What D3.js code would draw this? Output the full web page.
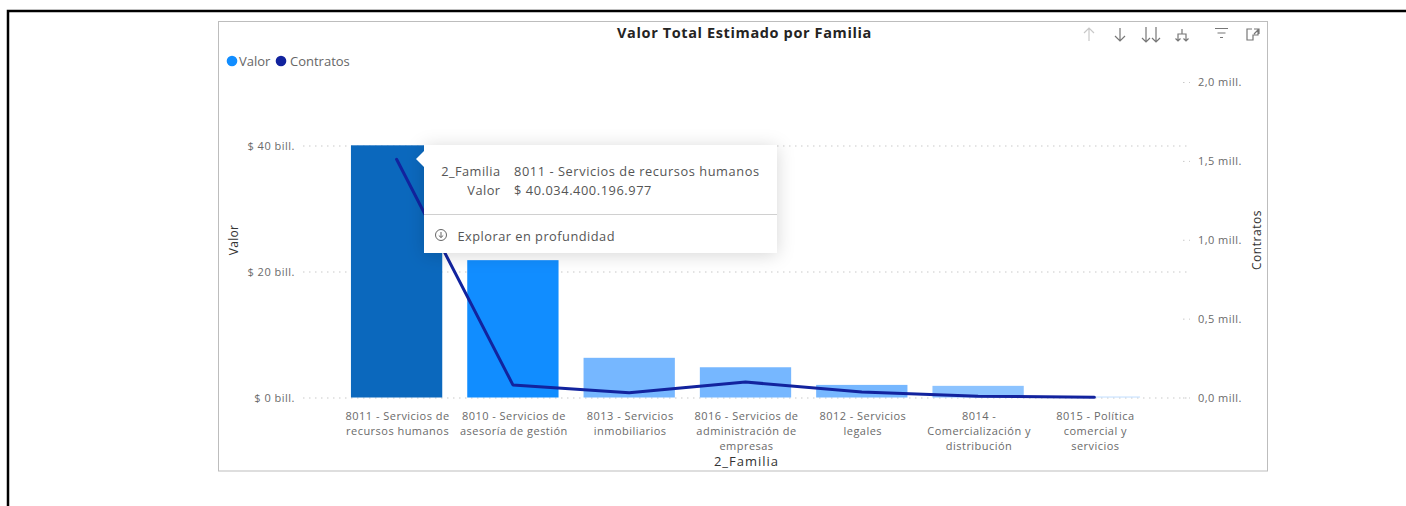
<!DOCTYPE html>
<html><head><meta charset="utf-8">
<script src="https://cdn.jsdelivr.net/npm/d3@7/dist/d3.min.js"></script>
<style>
html,body{margin:0;padding:0;background:#fff;overflow:hidden}
text{font-family:"Open Sans","Noto Sans",sans-serif}
</style></head><body>
<svg id="c" width="1406" height="506"></svg>
<script>
const chartTitle = "Valor Total Estimado por Familia";
const categories = ["8011","8010","8013","8016","8012","8014","8015"];
const categoryLabels = [
  ["8011 - Servicios de","recursos humanos"],
  ["8010 - Servicios de","asesoría de gestión"],
  ["8013 - Servicios","inmobiliarios"],
  ["8016 - Servicios de","administración de","empresas"],
  ["8012 - Servicios","legales"],
  ["8014 -","Comercialización y","distribución"],
  ["8015 - Política","comercial y","servicios"]
];
const valor = [40.03, 21.8, 6.3, 4.8, 2.0, 1.85, 0.15];
const contratos = [1.51, 0.08, 0.03, 0.098, 0.035, 0.008, 0.002];
const barColors = ["#0b68bd","#118dff","#76b7ff","#76b7ff","#76b7ff","#8cc3ff","#bcdcff"];
const valorTicks = [0,20,40];
const valorTickLabels = ["$ 0 bill.","$ 20 bill.","$ 40 bill."];
const contratosTicks = [0,0.5,1,1.5,2];
const contratosTickLabels = ["0,0 mill.","0,5 mill.","1,0 mill.","1,5 mill.","2,0 mill."];
const tooltipKeys = ["2_Familia","Valor"];
const tooltipValues = ["8011 - Servicios de recursos humanos","$ 40.034.400.196.977"];
const legendItems = ["Valor","Contratos"];
const legendColors = ["#118dff","#12239e"];

const svg = d3.select("#c");
const defs = svg.append("defs");
const f = defs.append("filter").attr("id","sh").attr("x","-15%").attr("y","-25%").attr("width","130%").attr("height","150%");
f.append("feDropShadow").attr("dx",0).attr("dy",2).attr("stdDeviation",9).attr("flood-color","#000").attr("flood-opacity",0.16);

// page frame
svg.append("rect").attr("x",8).attr("y",11).attr("width",1420).attr("height",520)
  .attr("fill","#fff").attr("stroke","#000").attr("stroke-width",2.5);
// panel
svg.append("rect").attr("x",218.5).attr("y",21.5).attr("width",1049).attr("height",449.5)
  .attr("fill","#fff").attr("stroke","#bdbdbd").attr("stroke-width",1);

const x = d3.scaleBand().domain(categories).range([338.5,1152.5]).paddingInner(0.215).paddingOuter(0.107);
const yL = d3.scaleLinear().domain([0,40]).range([397.5,145.5]);
const yR = d3.scaleLinear().domain([0,2]).range([397.5,82]);

// left axis with dotted grid
const gL = svg.append("g").attr("transform","translate(303,0)")
  .call(d3.axisLeft(yL).tickValues(valorTicks).tickSize(-887).tickPadding(8)
    .tickFormat((d,i)=>valorTickLabels[i]));
gL.select(".domain").remove();
gL.selectAll("line").attr("stroke","#c9c9c9").attr("stroke-dasharray","1.5 4.5");
gL.selectAll("text").attr("fill","#6a6a6a").attr("font-size",11).attr("letter-spacing",0.5);

// right axis
const gR = svg.append("g").attr("transform","translate(1183,0)")
  .call(d3.axisRight(yR).tickValues(contratosTicks).tickSize(7).tickPadding(8)
    .tickFormat((d,i)=>contratosTickLabels[i]));
gR.select(".domain").remove();
gR.selectAll("line").attr("stroke","#c9c9c9").attr("stroke-dasharray","1.5 4.5");
gR.selectAll("text").attr("fill","#6a6a6a").attr("font-size",11).attr("letter-spacing",0.45);

// bars
svg.append("g").selectAll("rect").data(categories).join("rect")
  .attr("x",d=>x(d)).attr("width",x.bandwidth())
  .attr("y",(d,i)=>yL(valor[i])).attr("height",(d,i)=>yL(0)-yL(valor[i]))
  .attr("fill",(d,i)=>barColors[i]);

// line
const line = d3.line().x(d=>x(d)+x.bandwidth()/2).y((d,i)=>yR(contratos[i]));
svg.append("path").attr("d",line(categories)).attr("fill","none")
  .attr("stroke","#12239e").attr("stroke-width",3).attr("stroke-linejoin","round").attr("stroke-linecap","round");

// category labels
const xg = svg.append("g").selectAll("text").data(categories).join("text")
  .attr("text-anchor","middle").attr("fill","#6a6a6a").attr("font-size",11).attr("letter-spacing",0.47)
  .attr("x",d=>x(d)+x.bandwidth()/2+1);
xg.each(function(d,i){
  d3.select(this).selectAll("tspan").data(categoryLabels[i]).join("tspan")
    .attr("x",x(d)+x.bandwidth()/2+1).attr("y",(t,j)=>420+j*15).text(t=>t);
});

// titles
svg.append("text").attr("x",744.5).attr("y",37.5).attr("text-anchor","middle")
  .attr("font-size",14.5).attr("letter-spacing",0.62).attr("font-weight",700).attr("fill","#252423").text(chartTitle);
svg.append("text").attr("x",746.5).attr("y",466).attr("text-anchor","middle")
  .attr("font-size",13).attr("letter-spacing",1).attr("fill","#333").text("2_Familia");
svg.append("text").attr("transform","translate(238,240) rotate(-90)").attr("text-anchor","middle")
  .attr("font-size",12).attr("letter-spacing",0.3).attr("fill","#333").text("Valor");
svg.append("text").attr("transform","translate(1261,240) rotate(-90)").attr("text-anchor","middle")
  .attr("font-size",12).attr("letter-spacing",0.55).attr("fill","#333").text("Contratos");

// legend
const legX = [232,281];
const lg = svg.append("g").selectAll("g").data(legendItems).join("g")
  .attr("transform",(d,i)=>`translate(${legX[i]},61)`);
lg.append("circle").attr("r",5.3).attr("fill",(d,i)=>legendColors[i]);
lg.append("text").attr("x",(d,i)=>i?9:7).attr("y",4.5).attr("font-size",13).attr("fill","#666").text(d=>d);

// header icons
const ic = svg.append("g").attr("fill","none").attr("stroke-width",1.2);
const icons = [
 ["#c8c8c8","M1089 41V28M1084 33L1089 28L1094 33"],
 ["#777","M1120 28V41M1115 36L1120 41L1125 36"],
 ["#777","M1146 27V42M1142 38L1146 42L1150 38M1156 27V42M1152 38L1156 42L1160 38"],
 ["#777","M1182 29V34M1178 41V34H1186V41M1175.5 38.5L1178 41L1180.5 38.5M1183.5 38.5L1186 41L1188.5 38.5"],
 ["#777","M1215 28.5H1228M1217.5 33H1225.5M1220 37.5H1223"],
 ["#777","M1252 29H1247V40H1253V35H1258V30M1254 29H1259V34M1259 29L1254 34"]
];
ic.selectAll("path").data(icons).join("path").attr("stroke",d=>d[0]).attr("d",d=>d[1]);

// tooltip
const tt = svg.append("g").attr("transform","translate(424,145)");
tt.append("rect").attr("width",353).attr("height",108).attr("fill","#fff").attr("filter","url(#sh)");
tt.append("path").attr("d","M0 6L-8 14L0 22Z").attr("fill","#fff");
tt.append("line").attr("x1",0).attr("x2",353).attr("y1",69.5).attr("y2",69.5).attr("stroke","#d0d0d0");
tooltipKeys.forEach((k,i)=>{
  tt.append("text").attr("x",76.5).attr("y",31+i*19).attr("text-anchor","end").attr("font-size",12.8).attr("letter-spacing",0.45).attr("fill","#555").text(k);
  tt.append("text").attr("x",90).attr("y",31+i*19).attr("font-size",12.8).attr("letter-spacing",0.57).attr("fill","#555").text(tooltipValues[i]);
});
tt.append("circle").attr("cx",17).attr("cy",90).attr("r",5.5).attr("fill","none").attr("stroke","#666");
tt.append("path").attr("d","M17 87V92.5M14.8 90.5L17 92.5L19.2 90.5").attr("fill","none").attr("stroke","#666");
tt.append("text").attr("x",33.5).attr("y",96).attr("font-size",12.8).attr("letter-spacing",0.48).attr("fill","#555").text("Explorar en profundidad");
</script>
</body></html>
